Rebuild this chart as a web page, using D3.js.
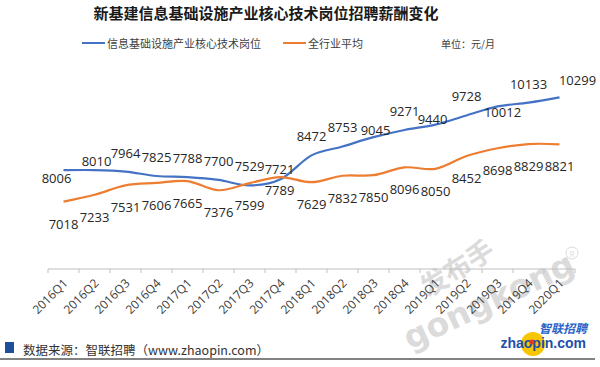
<!DOCTYPE html>
<html>
<head>
<meta charset="utf-8">
<script src="https://cdn.jsdelivr.net/npm/d3@7/dist/d3.min.js"></script>
<style>
  html, body { margin: 0; padding: 0; background: #fff; }
  svg { display: block; font-family: "Noto Sans CJK SC", "Noto Sans", sans-serif; }
</style>
</head>
<body>
<svg id="chart" width="600" height="367"></svg>
<script>
// ---- data ----
const quarters = ["2016Q1","2016Q2","2016Q3","2016Q4","2017Q1","2017Q2","2017Q3","2017Q4",
  "2018Q1","2018Q2","2018Q3","2018Q4","2019Q1","2019Q2","2019Q3","2019Q4","2020Q1"];
const coreTech = [8006, 8010, 7964, 7825, 7788, 7700, 7529, 7721, 8472, 8753, 9045, 9271, 9440, 9728, 10012, 10133, 10299];
const industryAvg = [7018, 7233, 7531, 7606, 7665, 7376, 7599, 7789, 7629, 7832, 7850, 8096, 8050, 8452, 8698, 8829, 8821];
const seriesNames = ["信息基础设施产业核心技术岗位", "全行业平均"];
const title = "新基建信息基础设施产业核心技术岗位招聘薪酬变化";
const unitText = "单位：元/月";
const sourceText = "数据来源：智联招聘（www.zhaopin.com）";

// label placement tweaks (style only)
const blueLabelShift = {0:[-7,8], 1:[2,-9], 7:[-1,-10], 10:[2,-7], 12:[-3,-6], 14:[5,6], 16:[18,-17]};
const orangeLabelShift = {7:[-1,13]};

const svg = d3.select("#chart");
const colors = ["#4472C4", "#ED7D31"];

const x = d3.scaleBand().domain(quarters).range([48, 575]).padding(0);
const y = d3.scaleLinear().domain([4900, 11000]).range([269, 75]);
const cx = q => x(q) + x.bandwidth() / 2;

// title
svg.append("text").attr("x", 266).attr("y", 19).attr("text-anchor", "middle")
  .attr("font-size", 15).attr("font-weight", "bold").attr("fill", "#1a1a1a").text(title);

// legend
const legend = [{x: 82, name: seriesNames[0], c: colors[0]}, {x: 283, name: seriesNames[1], c: colors[1]}];
legend.forEach(l => {
  svg.append("line").attr("x1", l.x).attr("x2", l.x + 23).attr("y1", 43).attr("y2", 43)
    .attr("stroke", l.c).attr("stroke-width", 2);
  svg.append("text").attr("x", l.x + 25).attr("y", 43).attr("dominant-baseline", "central")
    .attr("font-size", 11).attr("fill", "#404040").text(l.name);
});
svg.append("text").attr("x", 441).attr("y", 43).attr("dominant-baseline", "central")
  .attr("font-size", 10).attr("fill", "#404040").text(unitText);

// watermark (behind marks)
const wm = svg.append("g").attr("fill", "#c4c4c4").attr("opacity", 0.6);
wm.append("text").attr("transform", "translate(428,298) rotate(-32)").attr("font-size", 27)
  .attr("font-weight", "bold").text("发布手");
wm.append("text").attr("transform", "translate(410,350) rotate(-25)").attr("font-size", 33)
  .attr("font-weight", "bold").attr("font-family", "'DejaVu Sans', sans-serif").text("gongkong");
wm.append("circle").attr("cx", 572).attr("cy", 253).attr("r", 6).attr("fill", "none").attr("stroke", "#c4c4c4");
wm.append("text").attr("x", 572).attr("y", 253).attr("text-anchor", "middle").attr("dominant-baseline", "central")
  .attr("font-size", 8).text("R");

// x axis
const axisG = svg.append("g");
axisG.append("line").attr("x1", x.range()[0]).attr("x2", x.range()[1]).attr("y1", 269).attr("y2", 269)
  .attr("stroke", "#bfbfbf").attr("stroke-width", 1);
const tickPos = quarters.map(q => x(q)).concat([x.range()[1]]);
axisG.selectAll("line.tick").data(tickPos).enter().append("line").attr("class", "tick")
  .attr("x1", d => d).attr("x2", d => d).attr("y1", 269).attr("y2", 273)
  .attr("stroke", "#bfbfbf").attr("stroke-width", 1);
axisG.selectAll("text.tl").data(quarters).enter().append("text").attr("class", "tl")
  .attr("transform", d => `translate(${cx(d) + 5},${284}) rotate(-45)`)
  .attr("text-anchor", "end").attr("font-size", 12).attr("fill", "#404040")
  .attr("font-family", "'Open Sans', 'Noto Sans', sans-serif")
  .text(d => d);

// lines
const line = d3.line().x((d, i) => cx(quarters[i])).y(d => y(d)).curve(d3.curveCardinal.tension(0));
[coreTech, industryAvg].forEach((s, k) => {
  svg.append("path").datum(s).attr("d", line).attr("fill", "none")
    .attr("stroke", colors[k]).attr("stroke-width", 2.2).attr("stroke-linejoin", "round");
});

// data labels
function labels(s, baseDy, shift) {
  svg.append("g").selectAll("text").data(s).enter().append("text")
    .attr("x", (d, i) => cx(quarters[i]) + (shift[i] ? shift[i][0] : 0))
    .attr("y", (d, i) => y(d) + (shift[i] ? shift[i][1] : baseDy))
    .attr("text-anchor", "middle").attr("dominant-baseline", "central")
    .attr("font-size", 13).attr("fill", "#262626")
    .attr("font-family", "'Open Sans', 'Noto Sans', sans-serif")
    .text(d => d);
}
labels(coreTech, -19, blueLabelShift);
labels(industryAvg, 22, orangeLabelShift);

// logo
svg.append("circle").attr("cx", 533).attr("cy", 344).attr("r", 12).attr("fill", "#f7c600");
svg.append("text").attr("x", 587).attr("y", 333).attr("text-anchor", "end").attr("font-size", 12)
  .attr("font-weight", "bold").attr("font-style", "italic").attr("fill", "#2b63c8").text("智联招聘");
svg.append("text").attr("x", 586).attr("y", 348).attr("text-anchor", "end").attr("font-size", 14)
  .attr("font-weight", "bold").attr("fill", "#1d4fa8").attr("font-family", "'Liberation Sans', sans-serif")
  .text("zhaopin.com");
svg.append("circle").attr("cx", 532).attr("cy", 342).attr("r", 2.5).attr("fill", "#e23a2a");

// source footer
svg.append("rect").attr("x", 5).attr("y", 342).attr("width", 9).attr("height", 11).attr("fill", "#1f4e9a");
svg.append("text").attr("x", 23).attr("y", 349).attr("dominant-baseline", "central")
  .attr("font-size", 12.5).attr("fill", "#333").text(sourceText);
svg.append("line").attr("x1", 0).attr("x2", 595).attr("y1", 359).attr("y2", 359)
  .attr("stroke", "#595959").attr("stroke-width", 1.5);
</script>
</body>
</html>
